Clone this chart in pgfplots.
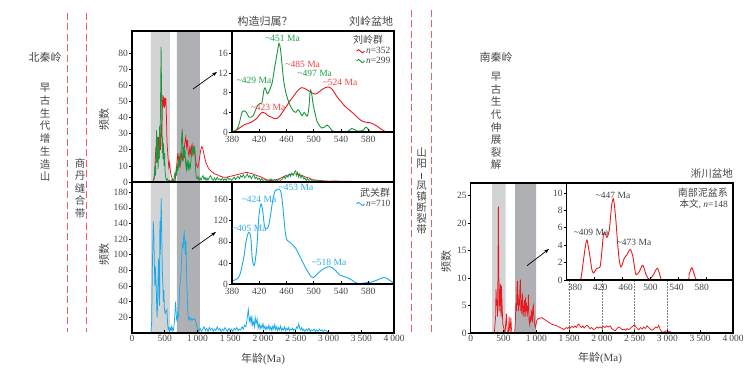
\documentclass[border=0pt]{standalone}
\usepackage{fontspec}
\setmainfont{Liberation Serif}
\newfontfamily\cjk{Noto Sans CJK SC}
\usepackage{pgfplots}
\pgfplotsset{compat=1.18}
\usetikzlibrary{arrows.meta}

\definecolor{lred}{RGB}{232,25,30}
\definecolor{lgreen}{RGB}{25,150,60}
\definecolor{lblue}{RGB}{25,170,235}
\definecolor{tred}{RGB}{240,70,70}
\definecolor{tgreen}{RGB}{35,160,75}
\definecolor{tblue}{RGB}{45,175,235}
\definecolor{txt}{RGB}{70,70,70}
\definecolor{bandA}{RGB}{210,211,213}
\definecolor{bandB}{RGB}{175,176,180}
\definecolor{dashc}{RGB}{236,95,105}

\pgfplotsset{
  base/.style={
    scale only axis, anchor=south west,
    axis on top,
    axis line style={line width=1.1pt, black},
    every tick/.style={black, line width=0.6pt},
    major tick length=3pt,
    tick label style={font=\fontsize{9.5}{10}\selectfont, text=txt},
    /pgf/number format/assume math mode=true,
    xtick pos=bottom, ytick pos=left,
    xtick align=inside, ytick align=outside,
    yticklabel style={inner sep=1pt},
    xticklabel style={inner sep=2pt},
  },
  mainx/.style={xmin=0, xmax=4000, xtick={0,500,...,4000},
    xticklabels={0,500,1\kern2pt000,1\kern2pt500,2\kern2pt000,2\kern2pt500,3\kern2pt000,3\kern2pt500,4\kern2pt000}},
  inset/.style={base, xmin=380, xmax=618, xtick={380,420,...,580},
    xticklabel style={yshift=-1.5pt},
    axis background/.style={fill=white}},
  wave/.style={legend image code/.code={\draw[##1, line width=0.9pt] (0pt,0pt) sin (2pt,1.6pt) cos (4pt,0pt) sin (6pt,-1.6pt) cos (8pt,0pt);}},
}

\begin{document}
\begin{tikzpicture}
\useasboundingbox (0,0) rectangle (751pt,371pt);

% ---------- top left main ----------
\begin{axis}[base, mainx, at={(132pt,189pt)}, width=262pt, height=151pt,
  ymin=0, ymax=93.8, ytick={0,10,...,80}, xtick=\empty]
\addplot[fill=bandA, draw=none] coordinates {(289,0)(289,100)(578,100)(578,0)} \closedcycle;
\addplot[fill=bandB, draw=none] coordinates {(685,0)(685,100)(1035,100)(1035,0)} \closedcycle;
\addplot[lred, line width=0.75pt] coordinates {(300,0)(330,1)(345,6)(355,14)(365,22)(375,12)(385,25)(395,17)(405,28)(415,15)(425,30)(435,20)(445,36)(455,28)(463,45)(470,54)(478,47)(486,53)(494,46)(502,52)(510,49)(518,52)(526,40)(534,25)(542,20)(552,14)(562,9)(575,12)(588,6)(600,4)(615,2)(630,0.5)(650,1)(665,3)(678,8)(690,14)(700,18)(712,12)(722,16)(735,10)(748,13)(760,19)(772,14)(785,17)(798,21)(810,25)(822,28)(834,22)(846,26)(858,19)(870,16)(882,21)(894,18)(906,22)(918,19)(930,23)(942,18)(954,21)(966,16)(978,12)(990,10)(1005,9)(1020,12)(1035,16)(1050,20)(1065,22)(1080,21)(1095,18)(1110,15)(1130,12)(1150,10)(1175,8)(1200,7)(1230,6)(1260,5)(1300,4.5)(1350,3.5)(1400,3)(1450,3)(1500,3.5)(1550,4)(1600,4.5)(1650,5)(1700,5.5)(1750,6)(1800,5.5)(1850,5)(1900,4)(1950,3.5)(2000,2.5)(2050,1.5)(2100,1)(2150,1)(2200,1.5)(2250,2)(2300,3)(2350,4)(2400,4.5)(2450,5)(2500,5)(2550,4.5)(2600,4)(2650,3)(2700,2.5)(2750,1.5)(2800,1.2)(2850,1)(2900,0.8)(3000,0.5)(3100,0.6)(3200,0.5)(3300,0.5)(3400,0.3)(3500,0.2)(3600,0)};
\addplot[lgreen, line width=0.75pt] coordinates {(320,0)(340,2)(352,10)(360,4)(368,20)(375,32)(382,12)(390,28)(398,8)(406,22)(414,14)(422,35)(430,25)(438,60)(444,84)(450,62)(456,30)(462,18)(468,28)(475,14)(482,24)(490,10)(498,18)(506,6)(515,3)(525,1)(540,2)(555,0.5)(570,1)(590,0.5)(610,1.5)(625,0.5)(640,2)(652,5)(662,2)(672,7)(682,4)(692,11)(702,7)(712,14)(722,9)(732,18)(742,12)(752,22)(760,30)(768,33)(775,20)(783,13)(792,22)(800,15)(810,20)(820,11)(830,8)(840,14)(850,9)(860,12)(870,7)(880,11)(890,9)(900,13)(910,20)(918,16)(926,22)(934,18)(942,21)(950,19)(958,22)(966,12)(974,6)(982,3)(995,2)(1010,3.5)(1025,1)(1040,2.5)(1055,1)(1070,3)(1085,4)(1100,1.5)(1115,3)(1130,1)(1145,2.5)(1160,1)(1180,3)(1200,4)(1220,2)(1240,1)(1260,2.5)(1280,1)(1300,3)(1320,1.5)(1340,2)(1360,1)(1380,2.5)(1400,1)(1420,2)(1440,1)(1460,3)(1480,1.5)(1500,2)(1520,1)(1540,2)(1560,3)(1580,1.5)(1600,2.5)(1620,3.5)(1640,2)(1660,4)(1680,3)(1700,4.5)(1720,2.5)(1740,3.5)(1760,5)(1780,3)(1800,4)(1820,2)(1840,3.5)(1860,4.5)(1880,2)(1900,3)(1920,1.5)(1940,2.5)(1960,1)(1980,2)(2000,1)(2030,1.5)(2060,0.5)(2090,1)(2120,2)(2150,1)(2180,1.5)(2210,0.5)(2240,1.5)(2270,1)(2300,2)(2320,3.5)(2340,2)(2360,4)(2380,3)(2400,5)(2420,3.5)(2440,5.5)(2460,4)(2480,6)(2500,7)(2515,4)(2530,6)(2545,3)(2560,5)(2580,2.5)(2600,4)(2620,2)(2640,2.5)(2660,1)(2680,2)(2700,1)(2730,1.5)(2760,0.5)(2790,1)(2820,0.5)(2850,1)(2900,0.5)(2950,0.3)(3000,0.5)(3050,0.2)(3100,0.4)(3200,0.2)(3300,0.3)(3400,0.1)(3500,0.2)(3650,0)};
\end{axis}

% ---------- bottom left main ----------
\begin{axis}[base, mainx, at={(132pt,38pt)}, width=262pt, height=151pt,
  ymin=0, ymax=193, ytick={20,40,...,180}]
\addplot[fill=bandA, draw=none] coordinates {(289,0)(289,200)(578,200)(578,0)} \closedcycle;
\addplot[fill=bandB, draw=none] coordinates {(685,0)(685,200)(1035,200)(1035,0)} \closedcycle;
\addplot[lblue, line width=0.75pt] coordinates {(220,0)(290,0)(300,15)(312,90)(325,143)(335,120)(342,85)(350,60)(356,85)(363,70)(370,60)(378,30)(385,20)(395,60)(406,95)(415,40)(421,35)(426,143)(432,100)(439,140)(446,172)(455,120)(463,80)(472,60)(480,40)(486,55)(495,30)(508,25)(520,28)(533,30)(545,10)(553,5)(564,7)(574,2)(584,6)(594,4)(604,8)(614,3)(624,6)(634,4)(645,12)(655,25)(665,40)(672,30)(680,18)(690,15)(700,25)(710,22)(720,40)(730,60)(740,70)(750,80)(760,100)(770,115)(780,108)(790,125)(798,128)(806,115)(814,100)(822,118)(830,92)(838,60)(846,40)(854,25)(862,18)(872,20)(885,17)(900,19)(915,16)(930,18)(945,17)(960,18)(975,14)(990,9)(1005,5)(1020,3)(1040,6)(1060,2)(1080,5)(1100,8)(1120,3)(1140,6)(1160,2)(1180,7)(1200,4)(1220,6)(1240,2)(1260,5)(1280,3)(1300,8)(1320,4)(1340,6)(1360,2)(1380,5)(1400,3)(1420,7)(1440,4)(1460,2)(1480,6)(1500,3)(1520,5)(1540,2)(1560,6)(1580,4)(1600,7)(1620,3)(1640,5)(1660,4)(1680,8)(1700,5)(1720,10)(1740,8)(1760,20)(1776,30)(1790,15)(1805,20)(1818,12)(1830,22)(1842,10)(1856,14)(1870,8)(1880,20)(1895,12)(1910,18)(1925,6)(1940,12)(1955,5)(1970,10)(1985,6)(2000,12)(2015,5)(2030,9)(2045,4)(2060,8)(2075,5)(2090,10)(2105,4)(2120,8)(2135,3)(2150,9)(2165,5)(2180,11)(2195,4)(2210,8)(2225,3)(2240,7)(2255,4)(2270,9)(2285,3)(2300,6)(2315,4)(2330,8)(2345,3)(2360,6)(2375,4)(2390,7)(2405,3)(2420,5)(2435,4)(2450,6)(2465,3)(2480,5)(2500,4)(2515,8)(2530,6)(2547,12)(2560,6)(2575,4)(2590,7)(2605,3)(2620,5)(2640,2)(2660,5)(2680,3)(2700,6)(2720,2)(2740,4)(2760,3)(2780,5)(2800,2)(2820,4)(2840,2)(2860,5)(2880,3)(2900,4)(2920,2)(2940,4)(2960,3)(2980,2)(2995,1)(3000,0)};
\end{axis}

% ---------- top inset ----------
\begin{axis}[inset, wave, at={(232pt,239pt)}, width=162pt, height=101pt,
  ymin=0, ymax=20.5, ytick={0,4,...,16},
  legend style={at={(rel axis cs:0.985,0.85)}, anchor=north east, draw=none, fill=none,
    font=\fontsize{9.5}{10}\selectfont, inner sep=0pt, row sep=0pt,
    nodes={inner sep=1pt, text=txt}},
  legend cell align=left]
\addplot[lred, line width=0.9pt, smooth] coordinates {(380,0)(388,0.5)(397,1.4)(407,1.9)(416,2.7)(421,3.6)(425,4.0)(429,3.8)(433,3.3)(438,3.0)(443,2.7)(447,2.8)(450,3.2)(455,4.2)(460,5.2)(465,6.3)(470,7.2)(476,8.3)(482,9.0)(486,8.9)(492,8.4)(497,8.0)(502,7.7)(507,8.0)(511,8.5)(517,9.0)(523,9.1)(528,8.5)(534,7.2)(540,6.2)(546,5.2)(552,4.5)(558,3.8)(564,3.0)(570,2.3)(576,2.0)(582,1.9)(588,1.6)(595,1.0)(600,0.5)(605,0.1)(610,0)(618,0)};
\addlegendentry{\textit{n}=352}
\addplot[lgreen, line width=0.9pt, smooth] coordinates {(380,0)(385,0.3)(389,1.0)(392,2.5)(395,4.1)(398,4.3)(401,4.0)(405,3.0)(408,3.0)(411,3.3)(414,4.2)(417,5.3)(421,5.8)(424,6.0)(427,8.6)(429,8.9)(431,8.0)(433,7.8)(436,8.8)(439,10.0)(442,12.5)(445,15.0)(447,16.5)(449,18.0)(451,17.0)(453,14.5)(455,11.5)(457,9.5)(460,7.5)(465,5.5)(470,4.3)(474,4.0)(477,4.5)(480,4.0)(483,3.3)(486,4.0)(489,3.4)(491,3.3)(493,5.0)(495,8.4)(497,7.8)(499,5.8)(502,3.8)(505,2.1)(508,1.4)(512,0.8)(516,1.0)(520,1.4)(524,0.8)(527,0.3)(532,0)(548,0)(552,0.3)(556,0.7)(560,0.5)(564,0.2)(569,0.2)(573,0.4)(577,1.0)(581,0.4)(586,0)(618,0)};
\addlegendentry{\textit{n}=299}
\end{axis}

% ---------- bottom inset ----------
\begin{axis}[inset, wave, at={(232pt,87pt)}, width=162pt, height=102pt,
  ymin=0, ymax=193.6, ytick={0,40,...,160},
  legend style={at={(rel axis cs:0.985,0.835)}, anchor=north east, draw=none, fill=none,
    font=\fontsize{9.5}{10}\selectfont, inner sep=0pt,
    nodes={inner sep=1pt, text=txt}},
  legend cell align=left]
\addplot[lblue, line width=0.9pt, smooth] coordinates {(380,6)(385,8)(388.5,10.7)(391,16)(393.5,26.5)(397.5,51.8)(401,83)(404.5,98)(407.5,90)(409.5,52)(411.5,36)(413.5,39)(416.5,71)(419.5,128)(422.5,152)(425,140)(427.5,112)(430,105)(433.5,109)(437,134)(440,160)(443.5,177)(447.5,180)(451,178)(453.5,162)(456,128)(458.5,96)(461,83)(466,78)(473.5,68)(481,49)(488.5,30)(494.5,17)(499.5,12)(506,20)(513.5,28)(523.5,33)(531,27)(538.5,17)(548.5,12.6)(556,7.6)(563.5,1.3)(571,1.3)(578.5,3)(583.5,3.2)(593.5,7.6)(603.5,12.6)(611,7.6)(618,1.3)};
\addlegendentry{\textit{n}=710}
\end{axis}

% ---------- right main ----------
\begin{axis}[base, mainx, at={(470.7pt,38pt)}, width=262.3pt, height=150pt,
  ymin=0, ymax=27.3, ytick={0,5,...,25}]
\addplot[fill=bandA, draw=none] coordinates {(325,0)(325,30)(534,30)(534,0)} \closedcycle;
\addplot[fill=bandB, draw=none] coordinates {(676,0)(676,30)(997,30)(997,0)} \closedcycle;
\draw[densely dotted, gray, line width=0.5pt] (axis cs:1500,0) -- (axis cs:1500,9.6);
\draw[densely dotted, gray, line width=0.5pt] (axis cs:2000,0) -- (axis cs:2000,9.6);
\draw[densely dotted, gray, line width=0.5pt] (axis cs:2500,0) -- (axis cs:2500,9.6);
\draw[densely dotted, gray, line width=0.5pt] (axis cs:3000,0) -- (axis cs:3000,9.6);
\addplot[lred, line width=0.75pt] coordinates {(360,0)(380,3)(386,8)(395,5)(402,6)(410,3)(416,12)(422,23)(428,12)(434,4)(440,8)(446,5)(452,9)(458,4)(464,3)(470,8.6)(476,6)(482,4)(490,1.5)(498,1.3)(510,0.5)(524,0)(535,2)(545,3.5)(552,1)(560,0)(575,0)(585,3)(592,1)(600,0)(612,2.8)(620,1)(630,0)(670,0)(680,2)(690,5.5)(698,4)(706,8)(712,9.5)(718,5)(724,7)(730,4)(737,6)(743,5)(750,8)(758,9.7)(765,4)(772,6)(778,3.5)(786,7)(794,6.5)(800,3)(808,5)(814,3.8)(822,6)(830,3)(836,6.5)(842,4)(849,5.5)(855,4.6)(862,3)(868,5)(874,4)(880,7)(886,4)(892,2)(900,1.5)(908,3)(916,2)(924,4)(931,3.8)(940,2)(948,4.5)(956,5)(964,3)(970,2)(977,1.5)(985,1)(995,1.5)(1008,2.3)(1030,2.6)(1059,2.7)(1080,2.8)(1109,2.6)(1135,2.4)(1160,2.2)(1185,2)(1211,1.8)(1235,1.6)(1262,1.5)(1290,1.4)(1315,1.3)(1338,1.2)(1360,1)(1380,0.9)(1400,0.8)(1415,0.6)(1440,0.8)(1460,1)(1480,0.8)(1500,1.1)(1520,0.9)(1545,1.2)(1567,1)(1590,1.3)(1610,1)(1630,1.4)(1644,1.6)(1660,1.5)(1669,1.2)(1690,1)(1710,1.3)(1730,0.9)(1750,1.2)(1775,1.4)(1797,1.1)(1820,0.8)(1845,1.0)(1873,0.6)(1900,0.8)(1925,1.1)(1950,0.9)(1975,1.1)(2000,0.9)(2026,1.2)(2050,1)(2075,1.3)(2100,1.1)(2128,1.3)(2150,0.8)(2175,0.6)(2205,0.4)(2230,0.8)(2255,1.1)(2281,0.9)(2310,0.6)(2340,0.7)(2365,0.5)(2383,0.8)(2410,0.6)(2440,0.9)(2470,1.2)(2500,1.5)(2520,1.1)(2540,0.8)(2561,0.6)(2590,1.0)(2615,0.7)(2637,1.1)(2660,0.8)(2690,1.3)(2714,1.0)(2740,0.7)(2765,0.5)(2790,0.7)(2820,1.1)(2845,0.9)(2866,1.4)(2890,0.6)(2917,0.2)(2950,0.2)(2980,0.4)(3018,0.3)(3045,0.2)(3069,0)(3170,0)};
\end{axis}

% ---------- right inset ----------
\begin{axis}[inset, at={(566.7pt,91pt)}, width=166.3pt, height=97pt,
  ymin=0, ymax=11.15, ytick={0,2,...,10},
  xticklabels={\kern8.3pt 380\kern-8.3pt, \kern5.7pt 420\kern-5.7pt, \kern3.1pt 460\kern-3.1pt, 500, \kern-2.1pt 540\kern2.1pt, \kern-4.7pt 580\kern4.7pt}]
\addplot[lred, line width=0.9pt, smooth] coordinates {(380,0)(398,0)(401,0.5)(404,2.3)(407,4.0)(409,4.6)(411,3.8)(414,2.3)(416,1.2)(418.4,0.8)(421,1.1)(423,1.3)(426,1.4)(428,1.6)(430,3.0)(432.7,5.3)(435,5.4)(437.6,4.9)(440.9,5.7)(443,7.5)(444.7,8.8)(447,9.3)(449.9,7.3)(452.7,4.4)(455,2.4)(457.5,1.5)(460,1.9)(462.3,2.5)(466.1,2.9)(470.9,3.5)(474.7,2.7)(477,1.5)(479.4,0.6)(484.1,1.0)(488.9,1.7)(493.7,0.6)(498.4,0.05)(504,0.6)(509.9,1.35)(514.7,0.2)(518,0)(552,0)(555,0.6)(559,1.4)(562.7,0.6)(566,0)(578,0)};
\end{axis}

% ---------- arrows ----------
\draw[-{Stealth[length=5pt,width=3.5pt]}, line width=0.7pt] (193pt,282pt) -- (217pt,299pt);
\draw[-{Stealth[length=5pt,width=3.5pt]}, line width=0.7pt] (192pt,122pt) -- (216pt,139pt);
\draw[-{Stealth[length=5pt,width=3.5pt]}, line width=0.7pt] (527pt,105.3pt) -- (549pt,122pt);

% ---------- dashed boundaries ----------
\begin{scope}[dashc, line width=1.4pt, dash pattern=on 7pt off 3.5pt]
\draw (67.7pt,358pt) -- (67.7pt,39pt);
\draw (86.7pt,358pt) -- (86.7pt,39pt);
\draw (411.7pt,361pt) -- (411.7pt,38pt);
\draw (431.3pt,361pt) -- (431.3pt,38pt);
\end{scope}

% ---------- texts ----------
\begin{scope}[every node/.style={inner sep=0pt, text=txt}]
\node[font=\cjk\fontsize{11}{12}\selectfont] at (45pt,314pt) {北秦岭};
\node[align=center, font=\cjk\fontsize{10.5}{12.7}\selectfont] at (45pt,238.5pt) {早\\古\\生\\代\\增\\生\\造\\山};
\node[align=center, font=\cjk\fontsize{10.5}{12.5}\selectfont] at (80pt,183pt) {商\\丹\\缝\\合\\带};
\node[align=center, font=\cjk\fontsize{10.5}{11}\selectfont] at (421.5pt,179.5pt) {山\\阳\\\rule{0.6pt}{6pt}\\凤\\镇\\断\\裂\\带};
\node[font=\cjk\fontsize{11}{12}\selectfont] at (496pt,314pt) {南秦岭};
\node[align=center, font=\cjk\fontsize{10.5}{12.6}\selectfont] at (496pt,250pt) {早\\古\\生\\代\\伸\\展\\裂\\解};
\node[font=\cjk\fontsize{11}{12}\selectfont] at (265pt,350pt) {构造归属？};
\node[font=\cjk\fontsize{11}{12}\selectfont] at (371pt,350pt) {刘岭盆地};
\node[font=\cjk\fontsize{10.5}{12}\selectfont, anchor=east] at (733pt,197pt) {淅川盆地};
\node[font=\cjk\fontsize{11}{12}\selectfont, rotate=90] at (104pt,251pt) {频数};
\node[font=\cjk\fontsize{11}{12}\selectfont, rotate=90] at (104pt,116pt) {频数};
\node[font=\cjk\fontsize{11}{12}\selectfont, rotate=90] at (446pt,109pt) {频数};
\node[font=\fontsize{11}{12}\selectfont] at (263pt,12pt) {{\cjk 年龄}(Ma)};
\node[font=\fontsize{11}{12}\selectfont] at (600pt,13pt) {{\cjk 年龄}(Ma)};
% inset titles
\node[font=\cjk\fontsize{10}{12}\selectfont] at (368pt,331pt) {刘岭群};
\node[font=\cjk\fontsize{10}{12}\selectfont] at (375pt,178.3pt) {武关群};
\node[font=\cjk\fontsize{10}{12}\selectfont, anchor=east] at (728pt,178.3pt) {南部泥盆系};
\node[font=\fontsize{9.5}{12}\selectfont, anchor=east] at (728pt,166.7pt) {{\cjk 本文}, \textit{n}=148};
% peak labels
\begin{scope}[every node/.append style={font=\fontsize{9.5}{10}\selectfont}]
\node[text=tgreen] at (282.5pt,333pt) {\textasciitilde451 Ma};
\node[text=tred] at (302.7pt,307pt) {\textasciitilde485 Ma};
\node[text=tgreen] at (314.7pt,298pt) {\textasciitilde497 Ma};
\node[text=tgreen] at (254pt,291pt) {\textasciitilde429 Ma};
\node[text=tred] at (340pt,289pt) {\textasciitilde524 Ma};
\node[text=tred] at (268pt,263.3pt) {\textasciitilde423 Ma};
\node[text=tblue] at (296pt,183.3pt) {\textasciitilde453 Ma};
\node[text=tblue] at (259pt,172pt) {\textasciitilde424 Ma};
\node[text=tblue] at (249.3pt,142.7pt) {\textasciitilde405 Ma};
\node[text=tblue] at (329pt,108.3pt) {\textasciitilde518 Ma};
\node at (613pt,176pt) {\textasciitilde447 Ma};
\node at (591pt,139pt) {\textasciitilde409 Ma};
\node at (634pt,128.3pt) {\textasciitilde473 Ma};
\end{scope}
\end{scope}
\end{tikzpicture}
\end{document}
